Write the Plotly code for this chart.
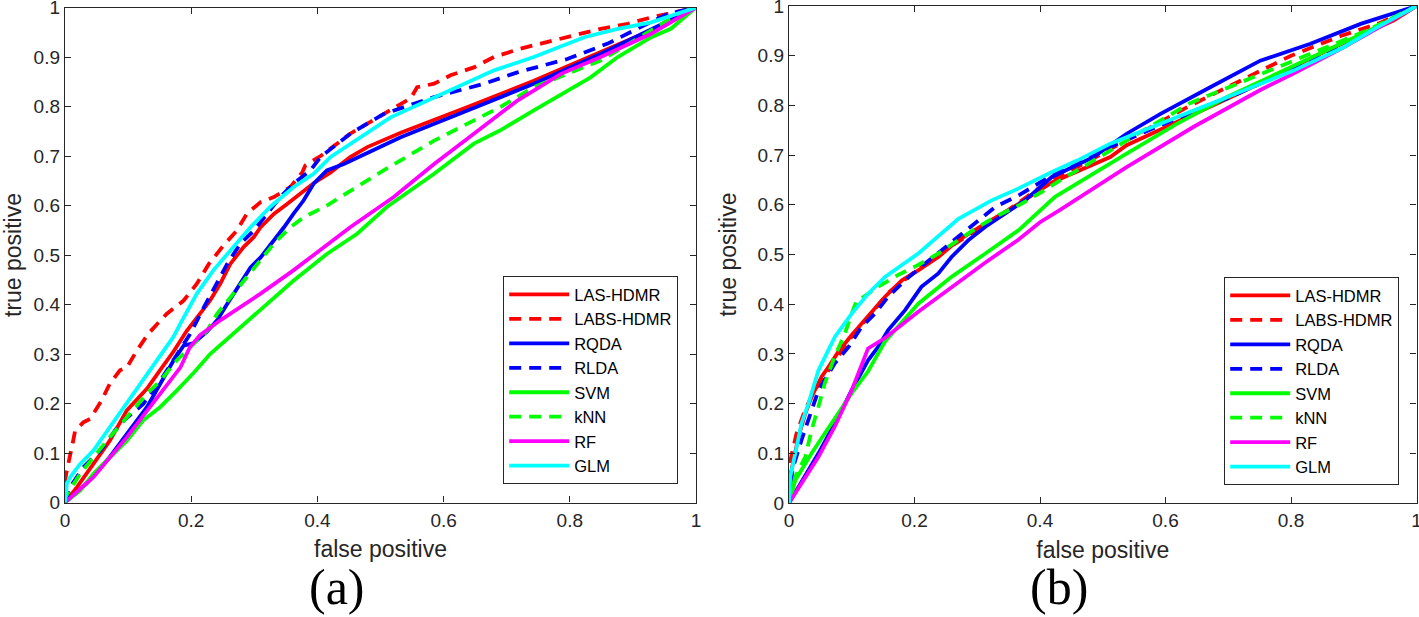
import plotly.graph_objects as go

names = ["LAS-HDMR", "LABS-HDMR", "RQDA", "RLDA", "SVM", "kNN", "RF", "GLM"]
colors = ["#FF0000", "#FF0000", "#0000FF", "#0000FF", "#00FF00", "#00FF00", "#FF00FF", "#00FFFF"]
dashes = ["solid", "12px,8px", "solid", "12px,8px", "solid", "12px,8px", "solid", "solid"]

x_ticks = [0, 0.2, 0.4, 0.6, 0.8, 1]
y_ticks = [0, 0.1, 0.2, 0.3, 0.4, 0.5, 0.6, 0.7, 0.8, 0.9, 1]

# ---------------- panel (a) ----------------
las_a_x = [0, 0.019, 0.045, 0.071, 0.098, 0.13, 0.151, 0.172, 0.193, 0.209, 0.23, 0.246, 0.262, 0.283, 0.299, 0.31, 0.331, 0.352, 0.373, 0.394, 0.421, 0.452, 0.479, 0.532, 0.638, 0.743, 0.849, 0.929, 1.0]
las_a_y = [0, 0.031, 0.078, 0.125, 0.186, 0.23, 0.268, 0.305, 0.347, 0.374, 0.408, 0.442, 0.482, 0.516, 0.536, 0.556, 0.583, 0.603, 0.624, 0.645, 0.667, 0.698, 0.718, 0.747, 0.799, 0.852, 0.91, 0.954, 1.0]

labs_a_x = [0, 0.0, 0.003, 0.008, 0.013, 0.016, 0.029, 0.04, 0.05, 0.058, 0.071, 0.087, 0.098, 0.114, 0.132, 0.161, 0.188, 0.209, 0.228, 0.251, 0.272, 0.288, 0.31, 0.331, 0.357, 0.376, 0.381, 0.405, 0.452, 0.516, 0.548, 0.558, 0.585, 0.611, 0.648, 0.68, 0.722, 0.754, 0.796, 0.849, 0.892, 0.929, 0.955, 1.0]
labs_a_y = [0, 0.044, 0.065, 0.092, 0.125, 0.145, 0.162, 0.169, 0.189, 0.206, 0.24, 0.267, 0.273, 0.307, 0.341, 0.381, 0.408, 0.442, 0.482, 0.519, 0.549, 0.583, 0.607, 0.617, 0.637, 0.667, 0.681, 0.7, 0.745, 0.792, 0.817, 0.839, 0.846, 0.863, 0.879, 0.9, 0.917, 0.927, 0.94, 0.957, 0.967, 0.98, 0.987, 1.0]

rqda_a_x = [0, 0.034, 0.071, 0.098, 0.13, 0.151, 0.172, 0.188, 0.204, 0.225, 0.241, 0.257, 0.278, 0.294, 0.31, 0.331, 0.347, 0.362, 0.378, 0.394, 0.415, 0.442, 0.532, 0.638, 0.743, 0.849, 0.92, 1.0]
rqda_a_y = [0, 0.038, 0.092, 0.139, 0.193, 0.24, 0.287, 0.317, 0.322, 0.345, 0.368, 0.401, 0.442, 0.475, 0.495, 0.529, 0.556, 0.583, 0.61, 0.644, 0.671, 0.684, 0.738, 0.792, 0.846, 0.906, 0.95, 1.0]

rlda_a_x = [0, 0.008, 0.029, 0.056, 0.087, 0.124, 0.151, 0.172, 0.198, 0.22, 0.238, 0.257, 0.278, 0.299, 0.32, 0.341, 0.362, 0.389, 0.405, 0.437, 0.452, 0.505, 0.585, 0.664, 0.717, 0.796, 0.86, 0.902, 0.955, 1.0]
rlda_a_y = [0, 0.031, 0.071, 0.105, 0.159, 0.199, 0.246, 0.287, 0.34, 0.394, 0.438, 0.482, 0.523, 0.549, 0.583, 0.617, 0.644, 0.671, 0.698, 0.731, 0.745, 0.785, 0.819, 0.846, 0.869, 0.896, 0.927, 0.954, 0.987, 1.0]

svm_a_x = [0, 0.024, 0.045, 0.071, 0.098, 0.124, 0.151, 0.177, 0.204, 0.23, 0.272, 0.32, 0.362, 0.415, 0.463, 0.51, 0.585, 0.648, 0.69, 0.743, 0.833, 0.876, 0.929, 0.96, 1.0]
svm_a_y = [0, 0.024, 0.058, 0.092, 0.125, 0.166, 0.193, 0.226, 0.262, 0.3, 0.347, 0.401, 0.448, 0.502, 0.543, 0.597, 0.664, 0.725, 0.752, 0.792, 0.859, 0.9, 0.94, 0.957, 1.0]

knn_a_x = [0, 0.0, 0.024, 0.045, 0.071, 0.098, 0.13, 0.151, 0.177, 0.209, 0.225, 0.241, 0.267, 0.288, 0.31, 0.331, 0.357, 0.378, 0.415, 0.505, 0.585, 0.638, 0.69, 0.743, 0.796, 0.849, 0.902, 0.955, 1.0]
knn_a_y = [0, 0.01, 0.058, 0.092, 0.132, 0.172, 0.22, 0.246, 0.287, 0.327, 0.347, 0.381, 0.422, 0.455, 0.489, 0.523, 0.556, 0.576, 0.6, 0.671, 0.731, 0.765, 0.799, 0.839, 0.866, 0.893, 0.933, 0.974, 1.0]

rf_a_x = [0, 0.045, 0.098, 0.151, 0.183, 0.198, 0.214, 0.246, 0.31, 0.362, 0.421, 0.452, 0.521, 0.585, 0.648, 0.717, 0.786, 0.849, 0.929, 1.0]
rf_a_y = [0, 0.051, 0.132, 0.22, 0.273, 0.314, 0.338, 0.368, 0.422, 0.469, 0.526, 0.556, 0.617, 0.684, 0.745, 0.812, 0.866, 0.9, 0.947, 1.0]

glm_a_x = [0, 0.003, 0.008, 0.024, 0.045, 0.071, 0.098, 0.124, 0.151, 0.172, 0.183, 0.209, 0.235, 0.267, 0.294, 0.325, 0.362, 0.394, 0.421, 0.516, 0.611, 0.68, 0.743, 0.823, 0.876, 0.929, 1.0]
glm_a_y = [0, 0.038, 0.051, 0.078, 0.105, 0.152, 0.199, 0.246, 0.294, 0.335, 0.362, 0.422, 0.469, 0.516, 0.556, 0.597, 0.637, 0.664, 0.698, 0.778, 0.832, 0.873, 0.9, 0.94, 0.957, 0.97, 1.0]

# ---------------- panel (b) ----------------
las_b_x = [0, 0.004, 0.015, 0.026, 0.036, 0.052, 0.063, 0.079, 0.1, 0.126, 0.153, 0.18, 0.206, 0.238, 0.27, 0.313, 0.366, 0.419, 0.512, 0.538, 0.645, 0.751, 0.858, 0.964, 1.0]
las_b_y = [0, 0.066, 0.133, 0.18, 0.214, 0.254, 0.274, 0.305, 0.338, 0.375, 0.415, 0.448, 0.468, 0.495, 0.529, 0.562, 0.602, 0.645, 0.696, 0.72, 0.783, 0.844, 0.911, 0.971, 1.0]

labs_b_x = [0, 0.003, 0.012, 0.025, 0.04, 0.06, 0.08, 0.1, 0.13, 0.16, 0.2, 0.25, 0.3, 0.35, 0.4, 0.45, 0.5, 0.56, 0.64, 0.72, 0.8, 0.88, 0.94, 1.0]
labs_b_y = [0, 0.09, 0.14, 0.185, 0.225, 0.262, 0.3, 0.335, 0.38, 0.425, 0.465, 0.51, 0.55, 0.59, 0.635, 0.67, 0.705, 0.745, 0.8, 0.85, 0.9, 0.94, 0.965, 1.0]

rqda_b_x = [0, 0.047, 0.073, 0.1, 0.126, 0.142, 0.158, 0.185, 0.211, 0.238, 0.259, 0.286, 0.313, 0.345, 0.376, 0.419, 0.485, 0.538, 0.592, 0.672, 0.751, 0.831, 0.911, 1.0]
rqda_b_y = [0, 0.1, 0.16, 0.227, 0.287, 0.314, 0.348, 0.388, 0.435, 0.462, 0.495, 0.529, 0.556, 0.582, 0.609, 0.656, 0.696, 0.743, 0.783, 0.837, 0.89, 0.924, 0.964, 1.0]

rlda_b_x = [0, 0.006, 0.02, 0.047, 0.073, 0.095, 0.116, 0.137, 0.158, 0.185, 0.217, 0.244, 0.27, 0.302, 0.329, 0.366, 0.398, 0.424, 0.5, 0.592, 0.7, 0.794, 0.9, 1.0]
rlda_b_y = [0, 0.07, 0.127, 0.227, 0.281, 0.314, 0.355, 0.381, 0.415, 0.448, 0.482, 0.509, 0.535, 0.569, 0.596, 0.619, 0.643, 0.663, 0.71, 0.76, 0.815, 0.87, 0.93, 1.0]

svm_b_x = [0, 0.01, 0.036, 0.057, 0.079, 0.1, 0.126, 0.153, 0.206, 0.259, 0.313, 0.366, 0.424, 0.485, 0.538, 0.618, 0.698, 0.778, 0.858, 0.937, 1.0]
svm_b_y = [0, 0.046, 0.1, 0.14, 0.18, 0.221, 0.265, 0.325, 0.401, 0.455, 0.502, 0.549, 0.616, 0.663, 0.703, 0.763, 0.817, 0.864, 0.911, 0.958, 1.0]

knn_b_x = [0, 0.01, 0.026, 0.036, 0.047, 0.057, 0.073, 0.089, 0.1, 0.108, 0.116, 0.142, 0.174, 0.206, 0.238, 0.27, 0.302, 0.334, 0.366, 0.403, 0.432, 0.5, 0.556, 0.64, 0.72, 0.83, 0.92, 1.0]
knn_b_y = [0, 0.053, 0.093, 0.147, 0.194, 0.241, 0.295, 0.341, 0.381, 0.408, 0.412, 0.435, 0.459, 0.479, 0.502, 0.529, 0.556, 0.579, 0.599, 0.626, 0.649, 0.7, 0.743, 0.805, 0.847, 0.904, 0.95, 1.0]

rf_b_x = [0, 0.047, 0.073, 0.1, 0.126, 0.153, 0.206, 0.259, 0.313, 0.366, 0.4, 0.432, 0.538, 0.645, 0.751, 0.804, 0.884, 1.0]
rf_b_y = [0, 0.093, 0.154, 0.227, 0.311, 0.332, 0.385, 0.434, 0.484, 0.53, 0.565, 0.59, 0.676, 0.757, 0.831, 0.864, 0.917, 1.0]

glm_b_x = [0, 0.002, 0.01, 0.02, 0.031, 0.047, 0.073, 0.1, 0.126, 0.153, 0.206, 0.27, 0.323, 0.366, 0.419, 0.459, 0.512, 0.565, 0.645, 0.725, 0.804, 0.884, 0.937, 1.0]
glm_b_y = [0, 0.053, 0.1, 0.16, 0.2, 0.267, 0.334, 0.381, 0.421, 0.455, 0.502, 0.572, 0.609, 0.633, 0.666, 0.689, 0.723, 0.75, 0.79, 0.83, 0.87, 0.917, 0.957, 1.0]

panel_a = [(las_a_x, las_a_y), (labs_a_x, labs_a_y), (rqda_a_x, rqda_a_y), (rlda_a_x, rlda_a_y),
           (svm_a_x, svm_a_y), (knn_a_x, knn_a_y), (rf_a_x, rf_a_y), (glm_a_x, glm_a_y)]
panel_b = [(las_b_x, las_b_y), (labs_b_x, labs_b_y), (rqda_b_x, rqda_b_y), (rlda_b_x, rlda_b_y),
           (svm_b_x, svm_b_y), (knn_b_x, knn_b_y), (rf_b_x, rf_b_y), (glm_b_x, glm_b_y)]

W, H = 1419, 617

def px(p):
    return min(1.0, max(0.0, p / W))

def py(p):
    return min(1.0, max(0.0, 1 - p / H))

fig = go.Figure()

for i, (xs, ys) in enumerate(panel_a):
    fig.add_trace(go.Scatter(x=xs, y=ys, mode="lines", name=names[i],
                             line=dict(color=colors[i], width=3.8, dash=dashes[i]),
                             xaxis="x", yaxis="y", legend="legend"))
for i, (xs, ys) in enumerate(panel_b):
    fig.add_trace(go.Scatter(x=xs, y=ys, mode="lines", name=names[i],
                             line=dict(color=colors[i], width=3.8, dash=dashes[i]),
                             xaxis="x2", yaxis="y2", legend="legend2"))

axcol = "#262626"
tickfont = dict(family="Liberation Sans, Arial, sans-serif", size=19, color=axcol)
titlefont = dict(family="Liberation Sans, Arial, sans-serif", size=23, color=axcol)

def xa(domain, anchor):
    return dict(domain=domain, anchor=anchor, range=[0, 1], tickvals=x_ticks,
                ticktext=[f"{v:g}" for v in x_ticks], ticklabeloverflow="allow",
                automargin=False,
                showline=True, linecolor=axcol, linewidth=1.4, mirror="ticks",
                ticks="inside", ticklen=6, tickwidth=1.2, tickcolor=axcol,
                showgrid=False, zeroline=False, tickfont=tickfont,
                title=dict(text="false positive", font=titlefont, standoff=11))

def ya(domain, anchor):
    return dict(domain=domain, anchor=anchor, range=[0, 1], tickvals=y_ticks,
                ticktext=[f"{v:g}" for v in y_ticks], ticklabeloverflow="allow",
                automargin=False,
                showline=True, linecolor=axcol, linewidth=1.4, mirror="ticks",
                ticks="inside", ticklen=6, tickwidth=1.2, tickcolor=axcol,
                showgrid=False, zeroline=False, tickfont=tickfont,
                title=dict(text="true positive", font=titlefont, standoff=14))

legfont = dict(family="Liberation Sans, Arial, sans-serif", size=16.5, color="black")

fig.update_layout(
    width=W, height=H,
    margin=dict(l=0, r=0, t=0, b=0, autoexpand=False),
    paper_bgcolor="white", plot_bgcolor="white",
    xaxis=xa([px(65), px(696)], "y"),
    yaxis=ya([py(502.5), py(7.5)], "x"),
    xaxis2=xa([px(789), px(1416.5)], "y2"),
    yaxis2=ya([py(503), py(6)], "x2"),
    legend=dict(x=px(678), y=py(484), xanchor="right", yanchor="bottom",
                bgcolor="white", bordercolor=axcol, borderwidth=1.2,
                font=legfont, tracegroupgap=0, itemwidth=60),
    legend2=dict(x=px(1399), y=py(485), xanchor="right", yanchor="bottom",
                 bgcolor="white", bordercolor=axcol, borderwidth=1.2,
                 font=legfont, tracegroupgap=0, itemwidth=60),
    showlegend=True,
    annotations=[
        dict(text="(a)", x=px(337), y=0.0, xref="paper", yref="paper",
             showarrow=False, xanchor="center", yanchor="bottom",
             font=dict(family="Liberation Serif, serif", size=50, color="black")),
        dict(text="(b)", x=px(1059), y=0.0, xref="paper", yref="paper",
             showarrow=False, xanchor="center", yanchor="bottom",
             font=dict(family="Liberation Serif, serif", size=50, color="black")),
    ],
)

fig.write_html("out.html", config={"displayModeBar": False},
               post_script="document.body.style.margin='0px';")
